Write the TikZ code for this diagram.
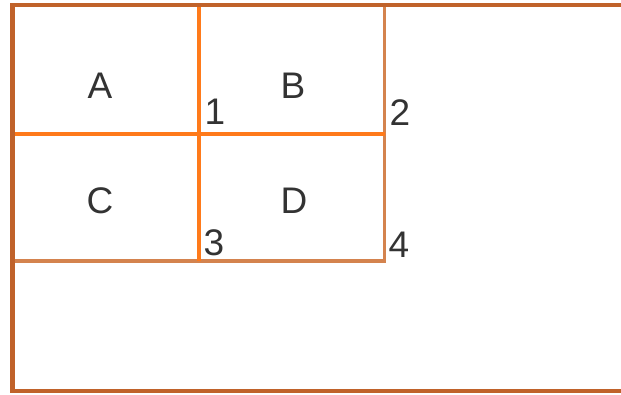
\documentclass[tikz,border=0pt]{standalone}
\usepackage{fontspec}
\setmainfont{Liberation Sans}
\definecolor{outerc}{HTML}{C0622A}
\definecolor{brightc}{HTML}{FF7A1A}
\definecolor{innerc}{HTML}{D4834E}
\definecolor{txt}{HTML}{333333}
\begin{document}
\begin{tikzpicture}[x=1pt,y=-1pt,
  lbl/.style={text=txt,font=\fontsize{37}{40}\selectfont,inner sep=0pt,anchor=center},
  outerline/.style={draw=outerc,line width=4.5pt},
  brightline/.style={draw=brightc,line width=4.5pt},
  innerline/.style={draw=innerc,line width=3.5pt}]
\useasboundingbox (0,0) rectangle (621,394);
\coordinate (tl) at (12.5,5);
\coordinate (bl) at (12.5,391);
\coordinate (tr) at (640,5);
\coordinate (br) at (640,391);
\coordinate (vt) at (199,5);
\coordinate (vb) at (199,261);
\coordinate (hl) at (12.5,134);
\coordinate (hr) at (384.5,134);
\coordinate (rt) at (384.5,5);
\coordinate (rb) at (384.5,261);
\coordinate (bl2) at (12.5,261);
% inner lines
\draw[innerline] (rt) -- (rb) -- (bl2);
\draw[brightline] (hl) -- (hr);
\draw[brightline] (vt) -- (vb);
% outer
\draw[outerline] (tr) -- (tl) -- (bl) -- (br);
% labels
\node[lbl] (A) at (100,86) {A};
\node[lbl] (B) at (293,86) {B};
\node[lbl] (C) at (100,201) {C};
\node[lbl] (D) at (294,201) {D};
\node[lbl] (n1) at (215,112) {1};
\node[lbl] (n2) at (400,113) {2};
\node[lbl] (n3) at (214,243) {3};
\node[lbl] (n4) at (399,245) {4};
\end{tikzpicture}
\end{document}
